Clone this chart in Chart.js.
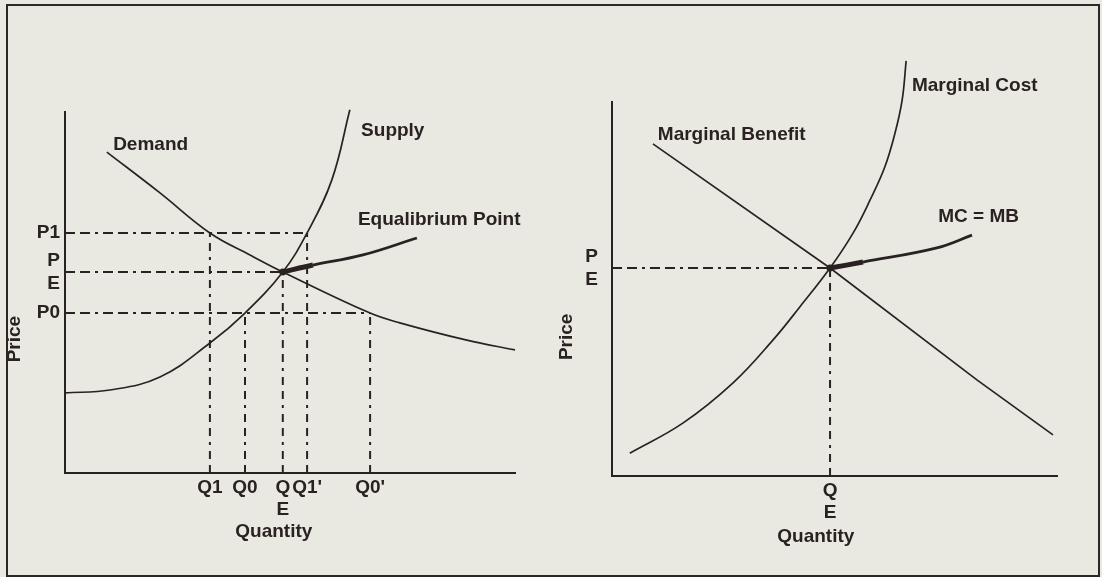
<!DOCTYPE html>
<html>
<head>
<meta charset="utf-8">
<script src="https://cdn.jsdelivr.net/npm/chart.js@4.4.0/dist/chart.umd.min.js"></script>
<style>
  html, body { margin: 0; padding: 0; background: #e9e9e2; }
  #page { position: relative; width: 1102px; height: 577px; overflow: hidden; }
  #frame { position: absolute; left: 6px; top: 4px; width: 1090px; height: 569px; border: 2px solid #2e2727; }
  .panel { position: absolute; top: 0; width: 551px; height: 577px; }
  #leftPanel { left: 0; }
  #rightPanel { left: 551px; }
</style>
</head>
<body>
<div id="page">
  <div id="frame"></div>
  <div class="panel" id="leftPanel"><canvas id="supplyDemand" width="551" height="577"></canvas></div>
  <div class="panel" id="rightPanel"><canvas id="marginal" width="551" height="577"></canvas></div>
</div>
<script>
// ---------- Data (both axes 0-100) ----------
// Left panel: supply and demand
const Q1 = 32.2, Q0 = 40, QE = 48.4, Q1p = 53.8, Q0p = 67.8;
const P0 = 44.3, PE = 55.7, P1 = 66.5;
const sdQuantityTicks = [Q1, Q0, QE, Q1p, Q0p];
const sdQuantityLabels = ['Q1', 'Q0', ['Q', 'E'], "Q1'", "Q0'"];
const sdPriceTicks = [P0, PE, P1];
const sdPriceLabels = ['P0', ['P', 'E'], 'P1'];

const demandQ = [9.3, 21.1, 32.2, 41.1, 48.4, 67.8, 74.4, 89.3, 100];
const demandP = [88.9, 77.6, 66.5, 60.4, 55.7, 44.3, 41.6, 36.8, 34.1];
const supplyQ = [0, 10, 21.1, 32.2, 40, 48.4, 53.8, 59.3, 63.3];
const supplyP = [22.2, 23.0, 26.6, 36.0, 44.3, 55.7, 66.5, 81.2, 100.6];
const eqArrowQ = [48.4, 55.1, 66.2, 78.2];
const eqArrowP = [55.7, 57.6, 60.4, 65.1];

// price level -> how far right its dashed guide runs
const sdPriceGuides = [[P1, Q1p], [PE, QE], [P0, Q0p]];
// quantity -> how high its dashed guide runs
const sdQuantityGuides = [[Q1, P1], [Q0, P0], [QE, PE], [Q1p, P1], [Q0p, P0]];

// Right panel: marginal cost and marginal benefit
const QE2 = 49.0, PE2 = 55.6;
const mQuantityTicks = [QE2];
const mQuantityLabels = [['Q', 'E']];
const mPriceTicks = [PE2];
const mPriceLabels = [['P', 'E']];

const mbQ = [9.2, 49.0, 82.0, 99.1];
const mbP = [88.8, 55.6, 25.7, 11.0];
const mcQ = [4.0, 16.0, 27.2, 36.2, 42.2, 49.0, 54.2, 58.0, 61.3, 63.6, 65.2, 66.1];
const mcP = [6.1, 14.2, 24.9, 36.4, 45.2, 55.6, 65.0, 73.8, 82.6, 91.7, 100.5, 111.0];
const mcmbArrowQ = [49.0, 56.4, 73.0, 80.9];
const mcmbArrowP = [55.6, 57.2, 61.0, 64.4];

// ---------- Styling ----------
const INK = '#2a2222';
const FONT = { family: '"Liberation Sans", Arial, sans-serif', size: 19, weight: 'bold', lineHeight: 1.2 };
const H_DASH = [10, 5, 10, 5, 3, 5];
const V_DASH = [8, 6, 8, 6, 3, 6];

function pts(qs, ps) { return qs.map((q, i) => ({ x: q, y: ps[i] })); }

function curveSet(qs, ps) {
  return {
    data: pts(qs, ps), showLine: true, borderColor: INK, borderWidth: 1.7,
    pointRadius: 0, tension: 0.4, capBezierPoints: false, clip: false
  };
}

function arrowSet(qs, ps) {
  return {
    data: pts(qs, ps), showLine: true, borderColor: INK, borderWidth: 2.8,
    tension: 0.4, capBezierPoints: false, clip: false,
    pointRadius: qs.map((q, i) => i === 0 ? 3.5 : 0),
    pointBackgroundColor: INK, pointBorderWidth: 0,
    segment: { borderWidth: c => c.p0DataIndex === 0 ? 5 : 2.8 }
  };
}

function guideSet(a, b, dash) {
  return { data: [a, b], showLine: true, borderColor: INK, borderWidth: 2, borderDash: dash, pointRadius: 0, tension: 0 };
}

// free text placed in data units (curve names, axis titles)
const notesPlugin = {
  id: 'notes',
  afterDraw(chart, args, opts) {
    const { ctx } = chart;
    const x = chart.scales.x, y = chart.scales.y;
    ctx.save();
    ctx.fillStyle = INK;
    ctx.font = 'bold 19px "Liberation Sans", Arial, sans-serif';
    ctx.textBaseline = 'middle';
    (opts.items || []).forEach(n => {
      const px = x.getPixelForValue(n.q), py = y.getPixelForValue(n.p);
      if (n.rotate) {
        ctx.save();
        ctx.translate(px, py);
        ctx.rotate(-Math.PI / 2);
        ctx.textAlign = 'center';
        ctx.fillText(n.text, 0, 0);
        ctx.restore();
      } else {
        ctx.textAlign = n.align || 'left';
        ctx.fillText(n.text, px, py);
      }
    });
    ctx.restore();
  }
};

function scales(qTicks, qLabels, pTicks, pLabels, yWidth, yPad) {
  return {
    x: {
      type: 'linear', min: 0, max: 100,
      grid: { display: false, drawTicks: false },
      border: { color: INK, width: 2 },
      afterBuildTicks: s => { s.ticks = qTicks.map(v => ({ value: v })); },
      afterFit: s => { s.height = 60; },
      ticks: { autoSkip: false, maxRotation: 0, padding: 3, color: INK, font: FONT,
               callback: (v, i) => qLabels[i] }
    },
    y: {
      type: 'linear', min: 0, max: 100,
      grid: { display: false, drawTicks: false },
      border: { color: INK, width: 2 },
      afterBuildTicks: s => { s.ticks = pTicks.map(v => ({ value: v })); },
      afterFit: s => { s.width = yWidth; },
      ticks: { autoSkip: false, padding: yPad, color: INK, font: FONT,
               callback: (v, i) => pLabels[i] }
    }
  };
}

function baseOptions(pad, sc, notes) {
  return {
    responsive: false, animation: false, devicePixelRatio: 1,
    layout: { padding: pad },
    scales: sc,
    plugins: { legend: { display: false }, tooltip: { enabled: false }, notes: { items: notes } }
  };
}

// ---------- Left chart ----------
const sdDatasets = [curveSet(demandQ, demandP), curveSet(supplyQ, supplyP)];
sdPriceGuides.forEach(([p, q]) => sdDatasets.push(guideSet({ x: 0, y: p }, { x: q, y: p }, H_DASH)));
sdQuantityGuides.forEach(([q, p]) => sdDatasets.push(guideSet({ x: q, y: 0 }, { x: q, y: p }, V_DASH)));
sdDatasets.push(arrowSet(eqArrowQ, eqArrowP));

new Chart(document.getElementById('supplyDemand'), {
  type: 'scatter',
  data: { datasets: sdDatasets },
  options: baseOptions(
    { left: 0, top: 112, right: 36, bottom: 44 },
    scales(sdQuantityTicks, sdQuantityLabels, sdPriceTicks, sdPriceLabels, 65, 5),
    [
      { text: 'Demand', q: 10.7, p: 90.9 },
      { text: 'Supply', q: 65.8, p: 94.7 },
      { text: 'Equalibrium Point', q: 65.1, p: 70.1 },
      { text: 'Quantity', q: 46.4, p: -16.3, align: 'center' },
      { text: 'Price', q: -11.1, p: 37.1, rotate: true }
    ]
  ),
  plugins: [notesPlugin]
});

// ---------- Right chart ----------
const mDatasets = [curveSet(mbQ, mbP), curveSet(mcQ, mcP)];
mDatasets[0].tension = 0;
mDatasets.push(guideSet({ x: 0, y: PE2 }, { x: QE2, y: PE2 }, H_DASH));
mDatasets.push(guideSet({ x: QE2, y: 0 }, { x: QE2, y: PE2 }, V_DASH));
mDatasets.push(arrowSet(mcmbArrowQ, mcmbArrowP));

new Chart(document.getElementById('marginal'), {
  type: 'scatter',
  data: { datasets: mDatasets },
  options: baseOptions(
    { left: 0, top: 102, right: 45, bottom: 41 },
    scales(mQuantityTicks, mQuantityLabels, mPriceTicks, mPriceLabels, 61, 14),
    [
      { text: 'Marginal Benefit', q: 10.3, p: 91.2 },
      { text: 'Marginal Cost', q: 67.4, p: 104.3 },
      { text: 'MC = MB', q: 73.3, p: 69.3 },
      { text: 'Quantity', q: 45.8, p: -16.3, align: 'center' },
      { text: 'Price', q: -10.1, p: 37.2, rotate: true }
    ]
  ),
  plugins: [notesPlugin]
});
</script>
</body>
</html>
